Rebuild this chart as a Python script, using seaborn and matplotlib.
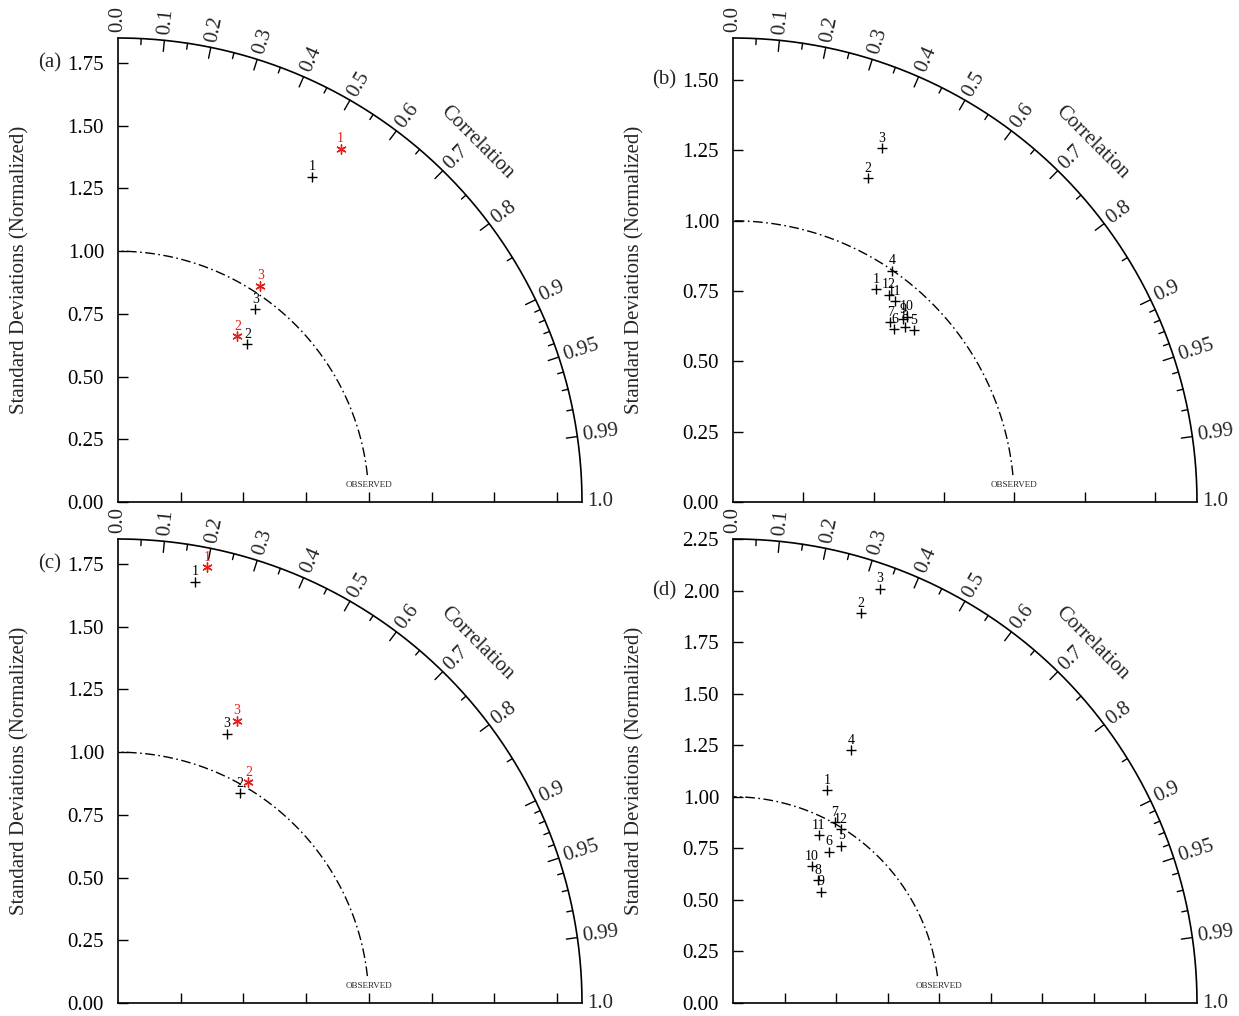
import numpy as np
import pandas as pd
import matplotlib
matplotlib.use("Agg")
import matplotlib.pyplot as plt
import seaborn as sns

sns.set_style("white")
plt.rcParams['font.family'] = ['Liberation Serif', 'DejaVu Serif']

# ---------------- data (normalized std, correlation) ----------------
a_black_std = [1.509, 0.814, 0.943]
a_black_corr = [0.512, 0.634, 0.581]
a_red_std = [1.665, 0.815, 1.032]
a_red_corr = [0.533, 0.584, 0.550]

b_std = [0.912, 1.248, 1.365, 0.998, 0.888, 0.840, 0.850, 0.873, 0.888, 0.904, 0.916, 0.923]
b_corr = [0.559, 0.385, 0.388, 0.567, 0.725, 0.683, 0.658, 0.701, 0.681, 0.684, 0.627, 0.601]

c_black_std = [1.707, 0.966, 1.159]
c_black_corr = [0.181, 0.502, 0.375]
c_red_std = [1.773, 1.022, 1.221]
c_red_corr = [0.201, 0.509, 0.387]

d_std = [1.128, 1.989, 2.131, 1.353, 0.926, 0.868, 1.006, 0.724, 0.687, 0.766, 0.914, 0.991]
d_corr = [0.404, 0.312, 0.334, 0.423, 0.567, 0.536, 0.490, 0.569, 0.620, 0.498, 0.456, 0.527]

corr_major = [0.0, 0.1, 0.2, 0.3, 0.4, 0.5, 0.6, 0.7, 0.8, 0.9, 0.95, 0.99]
corr_major_labels = ["0.0", "0.1", "0.2", "0.3", "0.4", "0.5", "0.6", "0.7", "0.8", "0.9", "0.95", "0.99"]
corr_minor = [0.05, 0.15, 0.25, 0.35, 0.45, 0.55, 0.65, 0.75, 0.85,
              0.91, 0.92, 0.93, 0.94, 0.96, 0.97, 0.98]

RED = '#e0201c'
FS = 15


def to_xy(std, corr):
    std = np.asarray(std, float)
    corr = np.asarray(corr, float)
    return std * corr, std * np.sqrt(1 - corr ** 2)


def taylor_frame(ax, rmax, tag, tag_y, yticks):
    ax.set_xlim(0, rmax)
    ax.set_ylim(0, rmax)
    ax.set_aspect('equal')
    for s in ['top', 'right']:
        ax.spines[s].set_visible(False)
    for s in ['left', 'bottom']:
        ax.spines[s].set_linewidth(1.2)
        ax.spines[s].set_color('black')
    ax.set_yticks(yticks)
    ax.set_yticklabels([f"{v:.2f}" for v in yticks])
    xt = np.arange(0.25, rmax - 0.05, 0.25)
    ax.set_xticks(xt)
    ax.set_xticklabels([])
    ax.tick_params(axis='both', direction='in', length=7.5, width=1.0,
                   colors='black', labelsize=FS, left=True, bottom=True)
    ax.tick_params(axis='y', pad=10)
    # outer arc
    th = np.linspace(0, np.pi / 2, 400)
    ax.plot(rmax * np.cos(th), rmax * np.sin(th), color='black', lw=1.2, clip_on=False)
    Lmaj = 0.024 * rmax
    Lmin = 0.013 * rmax
    off = 0.012 * rmax
    for c, lab in zip(corr_major, corr_major_labels):
        a = np.arccos(c)
        if c > 0:
            ax.plot([rmax * np.cos(a), (rmax - Lmaj) * np.cos(a)],
                    [rmax * np.sin(a), (rmax - Lmaj) * np.sin(a)],
                    color='black', lw=1.0, clip_on=False)
        ax.text((rmax + off) * np.cos(a), (rmax + off) * np.sin(a), lab,
                rotation=np.degrees(a), rotation_mode='anchor',
                ha='left', va='center', fontsize=FS)
    ax.text(rmax + off, 0, "1.0", ha='left', va='center', fontsize=FS)
    for c in corr_minor:
        a = np.arccos(c)
        ax.plot([rmax * np.cos(a), (rmax - Lmin) * np.cos(a)],
                [rmax * np.sin(a), (rmax - Lmin) * np.sin(a)],
                color='black', lw=1.0, clip_on=False)
    # Correlation title
    ang = np.radians(45)
    ax.text(1.095 * rmax * np.cos(ang), 1.095 * rmax * np.sin(ang), "Correlation",
            rotation=-45, ha='center', va='center', fontsize=FS)
    # observed reference arc
    tend = np.arcsin(0.058 * rmax)
    th2 = np.linspace(tend, np.pi / 2, 300)
    ax.plot(np.cos(th2), np.sin(th2), color='black', lw=1.0,
            linestyle=(0, (7, 2.5, 1.2, 2.5)))
    ax.text(1.0, 0.037 * rmax, "OBSERVED", ha='center', va='center', fontsize=6.5)
    ax.annotate(tag, xy=(0, tag_y), xycoords=('axes fraction', 'data'),
                xytext=(-41, 0), textcoords='offset points',
                ha='right', va='center', fontsize=FS)


def add_points(ax, std, corr, color, marker, s):
    x, y = to_xy(std, corr)
    df = pd.DataFrame({'x': x, 'y': y, 'lab': [str(i + 1) for i in range(len(x))]})
    sns.scatterplot(data=df, x='x', y='y', marker=marker, color=color, s=s,
                    linewidth=1.0, legend=False, ax=ax, zorder=5)
    for xi, yi, lab in zip(df['x'], df['y'], df['lab']):
        ax.annotate(lab, xy=(xi, yi), xytext=(0, 2.5), textcoords='offset points',
                    ha='center', va='bottom', fontsize=10, color=color)


def finish(ax):
    ax.set_xlabel("")
    ax.set_ylabel("Standard Deviations (Normalized)", fontsize=FS)
    ax.yaxis.set_label_coords(-0.19, 0.5)


fig = plt.figure(figsize=(12.39, 10.16), dpi=100)
W, H = 1239, 1016
size = 464
positions = {
    'a': (118, 502), 'b': (733, 502), 'c': (118, 1003), 'd': (733, 1003)
}


def make_ax(key):
    x0, y0 = positions[key]
    return fig.add_axes([x0 / W, (H - y0) / H, size / W, size / H])


ax_a = make_ax('a')
taylor_frame(ax_a, 1.85, "(a)", 1.75, np.arange(0, 1.76, 0.25))
add_points(ax_a, a_black_std, a_black_corr, 'black', '+', 55)
add_points(ax_a, a_red_std, a_red_corr, RED, (6, 2, 0), 45)
finish(ax_a)

ax_b = make_ax('b')
taylor_frame(ax_b, 1.65, "(b)", 1.50, np.arange(0, 1.51, 0.25))
add_points(ax_b, b_std, b_corr, 'black', '+', 55)
finish(ax_b)

ax_c = make_ax('c')
taylor_frame(ax_c, 1.85, "(c)", 1.75, np.arange(0, 1.76, 0.25))
add_points(ax_c, c_black_std, c_black_corr, 'black', '+', 55)
add_points(ax_c, c_red_std, c_red_corr, RED, (6, 2, 0), 45)
finish(ax_c)

ax_d = make_ax('d')
taylor_frame(ax_d, 2.25, "(d)", 2.00, np.arange(0, 2.26, 0.25))
add_points(ax_d, d_std, d_corr, 'black', '+', 55)
finish(ax_d)

fig.savefig("out.png", dpi=100, facecolor='white')
